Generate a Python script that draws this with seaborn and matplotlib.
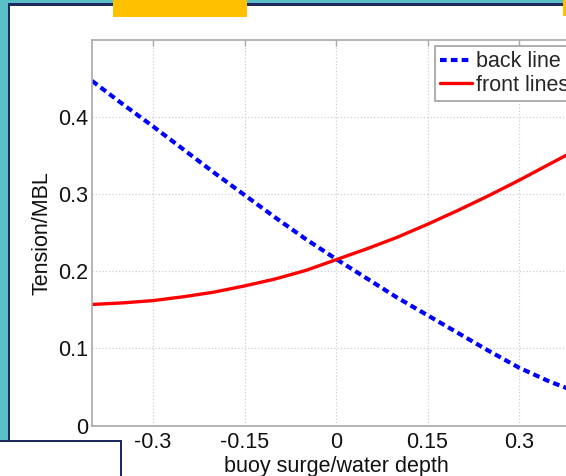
import matplotlib
matplotlib.use("Agg")
import matplotlib.pyplot as plt
from matplotlib.patches import Rectangle
from matplotlib.lines import Line2D
import pandas as pd
import seaborn as sns

# données
surge = [-0.4, -0.35, -0.3, -0.25, -0.2, -0.15, -0.1, -0.05, 0.0,
         0.05, 0.1, 0.15, 0.2, 0.25, 0.3, 0.35, 0.4]
back_line = [0.447, 0.417, 0.388, 0.358, 0.328, 0.299, 0.270, 0.242, 0.216,
             0.191, 0.166, 0.143, 0.120, 0.097, 0.075, 0.057, 0.042]
front_lines = [0.157, 0.159, 0.162, 0.167, 0.173, 0.181, 0.190, 0.201, 0.215,
               0.229, 0.244, 0.261, 0.279, 0.298, 0.318, 0.339, 0.360]
xticks = [-0.3, -0.15, 0, 0.15, 0.3]
xtick_labels = ["-0.3", "-0.15", "0", "0.15", "0.3"]
yticks = [0, 0.1, 0.2, 0.3, 0.4]
ytick_labels = ["0", "0.1", "0.2", "0.3", "0.4"]

sns.set_style("white")
plt.rcParams["font.family"] = ["Liberation Sans", "DejaVu Sans"]

W, H = 566, 476
fig = plt.figure(figsize=(W / 100, H / 100), dpi=100, facecolor="white")

TEAL = "#5bbfc8"
NAVY = "#1f2a5e"
YELLOW = "#ffc000"

def px_rect(x0, y0, x1, y1, **kw):
    # rectangle en pixels (origine en haut à gauche)
    fig.patches.append(Rectangle((x0 / W, 1 - y1 / H), (x1 - x0) / W, (y1 - y0) / H,
                                 transform=fig.transFigure, **kw))

# fond de la diapo
px_rect(0, 0, 8, 441, facecolor=TEAL, edgecolor="none", zorder=0)
px_rect(0, 0, W, 3, facecolor=TEAL, edgecolor="none", zorder=0)
px_rect(7.5, 3, W, 5.5, facecolor=NAVY, edgecolor="none", zorder=1)
px_rect(7.5, 3, 10, 441, facecolor=NAVY, edgecolor="none", zorder=1)
px_rect(0, 440, 122, 442, facecolor=NAVY, edgecolor="none", zorder=1)
px_rect(120, 440, 122, H, facecolor=NAVY, edgecolor="none", zorder=1)
px_rect(113, 0, 247, 17, facecolor=YELLOW, edgecolor="none", zorder=2)
px_rect(563, 0, W, 16, facecolor=YELLOW, edgecolor="none", zorder=2)

# axes (le bord droit sort de l'image)
ax = fig.add_axes([92 / W, 1 - 425.5 / H, (580 - 92) / W, (425.5 - 40) / H])
ax.set_facecolor("white")

df = pd.DataFrame({"surge": surge, "back": back_line, "front": front_lines})
sns.lineplot(data=df, x="surge", y="back", ax=ax, color="#0000ff", lw=3,
             linestyle=(0, (1.6, 1.0)))
sns.lineplot(data=df, x="surge", y="front", ax=ax, color="#ff0000", lw=2.4)

ax.set_xlim(-0.4, 0.4)
ax.set_ylim(0, 0.5)
ax.set_xticks(xticks)
ax.set_xticklabels(xtick_labels)
ax.set_yticks(yticks)
ax.set_yticklabels(ytick_labels)
ax.grid(True, color="#cfcfcf", linestyle=":", linewidth=0.9)
for s in ax.spines.values():
    s.set_color("#a8a8a8")
    s.set_linewidth(1.2)
ax.tick_params(direction="in", length=4, width=1, color="#a8a8a8",
               labelsize=15.5, labelcolor="#111111", top=True, right=True)
ax.tick_params(axis="x", pad=5)
ax.tick_params(axis="y", pad=3)
ax.set_xlabel("buoy surge/water depth", fontsize=15.5, color="#111111", labelpad=2)
ax.set_ylabel("Tension/MBL", fontsize=15.5, color="#111111", labelpad=4)

handles = [Line2D([], [], color="#0000ff", lw=3, linestyle=(0, (1.6, 1.0))),
           Line2D([], [], color="#ff0000", lw=2.4)]
leg = ax.legend(handles, ["back line", "front lines"], loc="upper left",
                bbox_to_anchor=(435 / W, 1 - 46 / H), bbox_transform=fig.transFigure,
                fontsize=15.5, frameon=True, fancybox=False, framealpha=1,
                edgecolor="#a0a0a0", handlelength=1.45, handletextpad=0.2,
                borderpad=0.25, labelspacing=0.1, borderaxespad=0)
leg.get_frame().set_linewidth(1.2)

fig.savefig("out.png", dpi=100, facecolor=fig.get_facecolor())
